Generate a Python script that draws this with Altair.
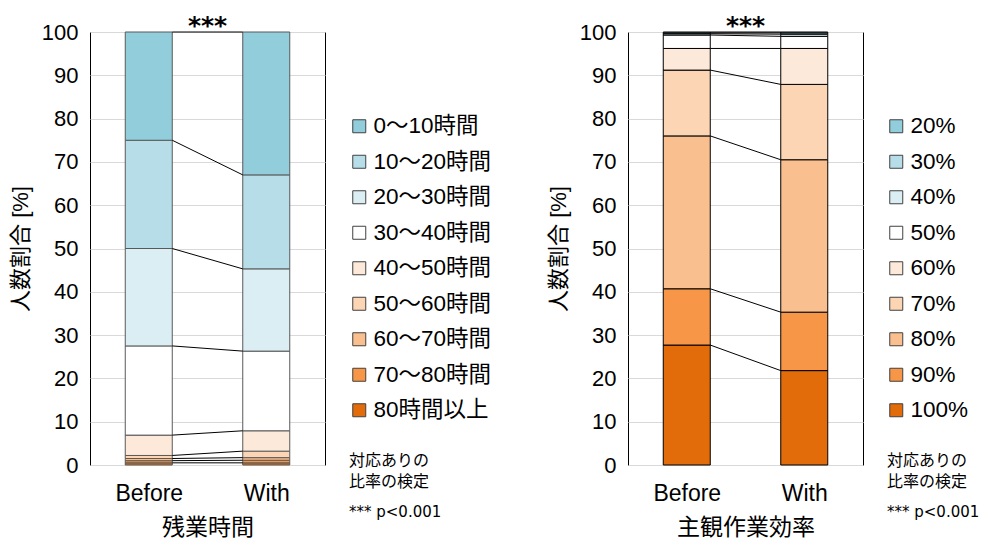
import json
import altair as alt
import pandas as pd

groups = ["Before", "With"]

ot_cats = ["0〜10時間", "10〜20時間", "20〜30時間", "30〜40時間", "40〜50時間",
           "50〜60時間", "60〜70時間", "70〜80時間", "80時間以上"]
ot_before = [25.0, 25.0, 22.5, 20.6, 4.7, 0.7, 0.5, 0.5, 0.5]
ot_with = [33.0, 21.7, 19.0, 18.4, 4.7, 1.5, 0.6, 0.6, 0.5]

eff_cats = ["20%", "30%", "40%", "50%", "60%", "70%", "80%", "90%", "100%"]
eff_before = [0.2, 0.2, 0.3, 3.1, 5.0, 15.2, 35.3, 13.0, 27.7]
eff_with = [0.2, 0.3, 0.5, 2.8, 8.3, 17.4, 35.2, 13.5, 21.8]

palette = ["#92CDDC", "#B7DEE8", "#DAEEF3", "#FFFFFF", "#FDE9D9",
           "#FCD5B4", "#FABF8F", "#F79646", "#E26B0A"]

y_ticks = list(range(0, 101, 10))
sig_text = "***"
note_text = "対応ありの\n比率の検定"
p_text = "*** p<0.001"
titles = ["残業時間", "主観作業効率"]
y_title = "人数割合 [%]"

FONT = "Liberation Sans, Arial, Noto Sans CJK JP"
FONT2 = "DejaVu Sans, Noto Sans CJK JP"
W, H = 235, 433


def tables(cats, before, with_):
    rows = []
    tops = {}
    for gi, vals in enumerate([before, with_]):
        cum = 0.0
        for k in reversed(range(len(cats))):
            y0 = cum
            cum += vals[k]
            rows.append(dict(grp=gi, cat=cats[k], y0=y0, y1=cum))
            tops.setdefault(cats[k], []).append(cum)
    links = pd.DataFrame([dict(cat=c, yb=v[0], yw=v[1]) for c, v in tops.items()])
    return pd.DataFrame(rows), links


def panel(cats, before, with_, stroke, title, legend_x):
    df, links = tables(cats, before, with_)
    xscale = alt.Scale(domain=[-0.5, 1.5], nice=False, zero=False)
    yscale = alt.Scale(domain=[0, 100], nice=False)
    bars = alt.Chart(df).transform_calculate(
        xl="datum.grp - 0.2", xr="datum.grp + 0.2"
    ).mark_rect(stroke=stroke, strokeWidth=1).encode(
        x=alt.X("xl:Q", scale=xscale, title=title,
                axis=alt.Axis(values=[0, 1],
                              labelExpr=json.dumps(groups) + "[datum.value]",
                              grid=False, ticks=False, domain=False,
                              labelFontSize=23, labelPadding=17,
                              titleFontSize=23, titlePadding=11,
                              titleFontWeight="normal")),
        x2="xr:Q",
        y=alt.Y("y0:Q", scale=yscale, title=y_title,
                axis=alt.Axis(values=y_ticks, grid=True, gridColor="#D9D9D9",
                              ticks=False, domain=False, labelFontSize=22,
                              labelPadding=12, titleFontSize=22,
                              titlePadding=9, titleFontWeight="normal")),
        y2="y1:Q",
        color=alt.Color("cat:N", scale=alt.Scale(domain=cats, range=palette),
                        legend=alt.Legend(orient="none", legendX=legend_x, legendY=83,
                                          title=None, symbolType="square",
                                          symbolSize=169, symbolStrokeColor="#404040",
                                          symbolStrokeWidth=1, labelFontSize=22.5,
                                          labelOffset=3, rowPadding=12.5,
                                          labelFont=FONT)),
    )
    rules = alt.Chart(links).transform_calculate(
        lx="0.2", rx="0.8"
    ).mark_rule(color="black", strokeWidth=1).encode(
        x="lx:Q", x2="rx:Q", y="yb:Q", y2="yw:Q"
    )
    sig = alt.Chart(pd.DataFrame({"t": [sig_text]})).mark_text(
        fontSize=25, font=FONT2, fontWeight="bold", baseline="alphabetic",
        align="center"
    ).encode(x=alt.value(W / 2), y=alt.value(2), text="t:N")
    note = alt.Chart(pd.DataFrame({"t": [note_text]})).mark_text(
        fontSize=16, font=FONT, baseline="top", align="left",
        lineBreak="\n", lineHeight=21
    ).encode(x=alt.value(259), y=alt.value(421), text="t:N")
    pval = alt.Chart(pd.DataFrame({"t": [p_text]})).mark_text(
        fontSize=15, font=FONT2, baseline="middle", align="left"
    ).encode(x=alt.value(259), y=alt.value(480), text="t:N")
    return alt.layer(bars, rules, sig, note, pval).properties(width=W, height=H)


left = panel(ot_cats, ot_before, ot_with, "#595959", titles[0], 258)
right = panel(eff_cats, eff_before, eff_with, "#000000", titles[1], 257)

chart = alt.hconcat(left, right, spacing=303, bounds="flush").resolve_scale(
    color="independent"
).resolve_legend(color="independent").properties(
    padding={"left": 0, "top": 5, "right": 0, "bottom": 2}
).configure_view(stroke="black", strokeWidth=1).configure_axis(
    labelFont=FONT, titleFont=FONT, labelColor="black", titleColor="black"
).configure_legend(labelColor="black")

chart.save("out.html", embed_options={"renderer": "svg", "actions": False})
